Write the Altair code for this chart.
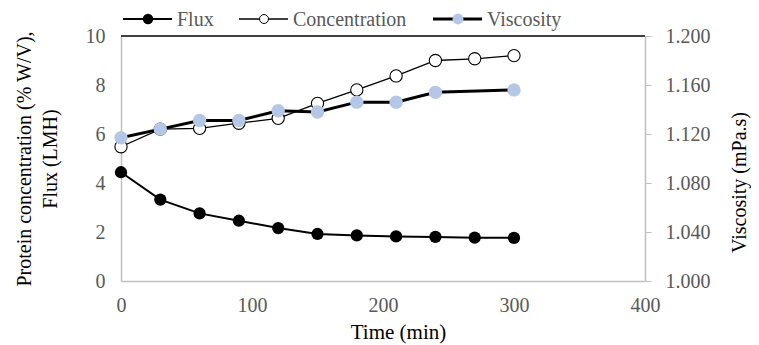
import altair as alt
import pandas as pd

# ---- data ----
time_min = [0, 30, 60, 90, 120, 150, 180, 210, 240, 270, 300]
flux = [4.44, 3.32, 2.76, 2.46, 2.16, 1.92, 1.86, 1.82, 1.80, 1.77, 1.76]
concentration = [5.48, 6.20, 6.23, 6.44, 6.64, 7.25, 7.80, 8.37, 9.00, 9.07, 9.20]
visc_time = [0, 30, 60, 90, 120, 150, 180, 210, 240, 300]
viscosity = [1.117, 1.124, 1.131, 1.131, 1.139, 1.138, 1.146, 1.146, 1.154, 1.156]

series_names = ["Flux", "Concentration", "Viscosity"]
x_ticks = [0, 100, 200, 300, 400]
left_ticks = [0, 2, 4, 6, 8, 10]
right_ticks = [1.0, 1.04, 1.08, 1.12, 1.16, 1.2]

FONT = "Liberation Serif"
GRAY = "#595959"
AXGRAY = "#bfbfbf"
BLUE = "#b4c7e7"
W, H = 524, 245

df_main = pd.DataFrame({"time": time_min, "flux": flux, "conc": concentration})
df_visc = pd.DataFrame({"time": visc_time, "visc": viscosity})

x_enc = alt.X("time:Q", scale=alt.Scale(domain=[0, 400], nice=False),
              axis=alt.Axis(values=x_ticks, title="Time (min)", ticks=False,
                            labelFlush=False, labelOverlap=False,
                            labelPadding=14, titlePadding=6, titleFontSize=21,
                            titleX=277))

left_axis = alt.Axis(values=left_ticks, ticks=False, labelPadding=16,
                     labelFlush=False,
                     title=["Protein concentration (% W/V),", "Flux (LMH)"],
                     titleAngle=270, titlePadding=25, titleLineHeight=26,
                     titleFontSize=20)
left_scale = alt.Scale(domain=[0, 10], nice=False, zero=True)

base_main = alt.Chart(df_main)
flux_line = base_main.mark_line(color="black", strokeWidth=2).encode(
    x=x_enc, y=alt.Y("flux:Q", scale=left_scale, axis=left_axis))
flux_pts = base_main.mark_point(filled=True, color="black", size=150, opacity=1).encode(
    x=x_enc, y=alt.Y("flux:Q", scale=left_scale, axis=left_axis))
conc_line = base_main.mark_line(color="black", strokeWidth=1.3).encode(
    x=x_enc, y=alt.Y("conc:Q", scale=left_scale, axis=left_axis))
conc_pts = base_main.mark_point(shape="circle", fill="white", stroke="black",
                                strokeWidth=1.1, size=150, opacity=1, fillOpacity=1).encode(
    x=x_enc, y=alt.Y("conc:Q", scale=left_scale, axis=left_axis))

left = alt.layer(flux_line, flux_pts, conc_line, conc_pts)

right_axis = alt.Axis(values=right_ticks, orient="right", format=".3f",
                      tickSize=6, tickColor=AXGRAY, labelPadding=14,
                      labelFlush=False,
                      title="Viscosity (mPa.s)", titleAngle=270,
                      titlePadding=39, titleFontSize=20, titleY=146)
right_scale = alt.Scale(domain=[1.0, 1.2], nice=False, zero=False)
base_visc = alt.Chart(df_visc)
visc_line = base_visc.mark_line(color="black", strokeWidth=3).encode(
    x=x_enc, y=alt.Y("visc:Q", scale=right_scale, axis=right_axis))
visc_pts = base_visc.mark_point(filled=True, color=BLUE, size=180, opacity=1).encode(
    x=x_enc, y=alt.Y("visc:Q", scale=right_scale, axis=right_axis))
right = alt.layer(visc_line, visc_pts)

# top border line
df_border = pd.DataFrame({"k": [0]})
top_line = alt.Chart(df_border).mark_rule(color="black", strokeWidth=1.3).encode(
    x=alt.value(0), x2=alt.value(W), y=alt.value(0))

# legend (built from the series names)
leg_x = [2, 118, 312]
leg_line_w = [2, 1.3, 3]
leg_layers = []
for i, name in enumerate(series_names):
    d = pd.DataFrame({"name": [name]})
    c = alt.Chart(d)
    x0 = leg_x[i]
    leg_layers.append(c.mark_rule(color="black", strokeWidth=leg_line_w[i]).encode(
        x=alt.value(x0), x2=alt.value(x0 + 49), y=alt.value(-17)))
    if i == 0:
        pm = c.mark_point(filled=True, color="black", size=110, opacity=1)
    elif i == 1:
        pm = c.mark_point(shape="circle", fill="white", stroke="black", strokeWidth=1,
                          size=80, opacity=1, fillOpacity=1)
    else:
        pm = c.mark_point(filled=True, color=BLUE, size=120, opacity=1)
    leg_layers.append(pm.encode(x=alt.value(x0 + 25), y=alt.value(-17)))
    leg_layers.append(c.mark_text(align="left", baseline="middle", font=FONT,
                                  fontSize=20, color=GRAY).encode(
        x=alt.value(x0 + 54), y=alt.value(-16), text="name:N"))

chart = alt.layer(left, right, top_line, *leg_layers).resolve_scale(
    y="independent"
).properties(
    width=W, height=H,
    autosize="none",
    padding={"left": 113, "top": 28, "right": 106, "bottom": 66},
).configure_view(stroke=None).configure_axis(
    domainColor=AXGRAY, domainWidth=1.5, labelFont=FONT, labelFontSize=20,
    labelColor=GRAY, titleFont=FONT, titleFontWeight="normal", titleColor="black",
    grid=False,
)

chart.save("out.html", embed_options={"renderer": "svg", "actions": False})
